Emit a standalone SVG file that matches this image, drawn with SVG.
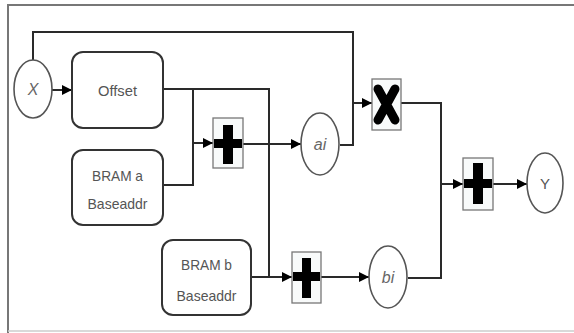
<svg xmlns="http://www.w3.org/2000/svg" width="574" height="333" viewBox="0 0 574 333">
<style>
.wire{fill:none;stroke:#2a2a2a;stroke-width:2}
.blk{fill:#fff;stroke:#333;stroke-width:2}
.circ{fill:#fff;stroke:#555;stroke-width:1.6}
.op{fill:#f8fafa;stroke:#777;stroke-width:1.3}
.sym{fill:#000}
.lbl{font-family:"Liberation Sans",Arial,sans-serif;font-size:15px;fill:#555;text-anchor:middle}
.var{font-family:"Liberation Sans",Arial,sans-serif;font-size:16px;fill:#666;text-anchor:middle;font-style:italic}
</style>
<defs>
<marker id="arr" viewBox="0 0 10 10" refX="10" refY="5" markerWidth="10" markerHeight="10" markerUnits="userSpaceOnUse" orient="auto">
<path d="M0,0 L10,5 L0,10 z" fill="#000"/>
</marker>
</defs>
<rect x="0" y="0" width="574" height="333" fill="#fff"/>
<g id="frame">
<line x1="7" y1="5" x2="574" y2="5" stroke="#777" stroke-width="2"/>
<line x1="8" y1="5" x2="8" y2="333" stroke="#777" stroke-width="2"/>
<line x1="8" y1="331" x2="574" y2="331" stroke="#ccc" stroke-width="1.5"/>
</g>
<g id="connectors">
<path class="wire" d="M33,60 V32 H353 V103 H372" marker-end="url(#arr)"/>
<path class="wire" d="M340,145 H353 V103"/>
<path class="wire" d="M52,90 H72" marker-end="url(#arr)"/>
<path class="wire" d="M163,89 H269 V277 H292" marker-end="url(#arr)"/>
<path class="wire" d="M251,277 H269"/>
<path class="wire" d="M163,185 H193 V89"/>
<path class="wire" d="M193,143 H213" marker-end="url(#arr)"/>
<path class="wire" d="M243,144 H301" marker-end="url(#arr)"/>
<path class="wire" d="M321,277 H369" marker-end="url(#arr)"/>
<path class="wire" d="M401,103 H441 V278 H408"/>
<path class="wire" d="M441,184 H463" marker-end="url(#arr)"/>
<path class="wire" d="M493,184 H527" marker-end="url(#arr)"/>
</g>
<g id="x">
<ellipse class="circ" cx="33" cy="89" rx="19" ry="29"/>
<text class="var" x="33" y="95">X</text>
</g>
<g id="offset">
<rect class="blk" x="72" y="52" width="91" height="76" rx="11"/>
<text class="lbl" x="117.5" y="96" textLength="39" lengthAdjust="spacingAndGlyphs">Offset</text>
</g>
<g id="bram-a">
<rect class="blk" x="72" y="150" width="91" height="75" rx="11"/>
<text class="lbl" x="117.5" y="181" textLength="51" lengthAdjust="spacingAndGlyphs">BRAM a</text>
<text class="lbl" x="117.5" y="209" textLength="60" lengthAdjust="spacingAndGlyphs">Baseaddr</text>
</g>
<g id="bram-b">
<rect class="blk" x="162" y="240" width="89" height="75" rx="11"/>
<text class="lbl" x="206.5" y="270" textLength="51" lengthAdjust="spacingAndGlyphs">BRAM b</text>
<text class="lbl" x="206.5" y="301" textLength="60" lengthAdjust="spacingAndGlyphs">Baseaddr</text>
</g>
<g id="add1">
<rect class="op" x="213" y="118" width="30" height="50"/>
<rect class="sym" x="223" y="125" width="10" height="39"/>
<rect class="sym" x="214" y="139" width="28" height="9"/>
</g>
<g id="ai">
<ellipse class="circ" cx="320" cy="144" rx="19" ry="31"/>
<text class="var" x="320" y="150">ai</text>
</g>
<g id="mul">
<rect class="op" x="372" y="79" width="29" height="51"/>
<path d="M378,89 L395,120 M395,89 L378,120" stroke="#000" stroke-width="9" stroke-linecap="round" fill="none"/>
</g>
<g id="add2">
<rect class="op" x="292" y="252" width="29" height="51"/>
<rect class="sym" x="302" y="258" width="9" height="40"/>
<rect class="sym" x="293" y="272" width="27" height="9"/>
</g>
<g id="bi">
<ellipse class="circ" cx="388" cy="277" rx="19" ry="31"/>
<text class="var" x="388" y="283">bi</text>
</g>
<g id="add3">
<rect class="op" x="463" y="158" width="30" height="52"/>
<rect class="sym" x="473" y="163" width="10" height="41"/>
<rect class="sym" x="464" y="179" width="28" height="9"/>
</g>
<g id="y">
<ellipse class="circ" cx="545" cy="183" rx="18" ry="30"/>
<text class="lbl" x="545" y="189">Y</text>
</g>
</svg>
